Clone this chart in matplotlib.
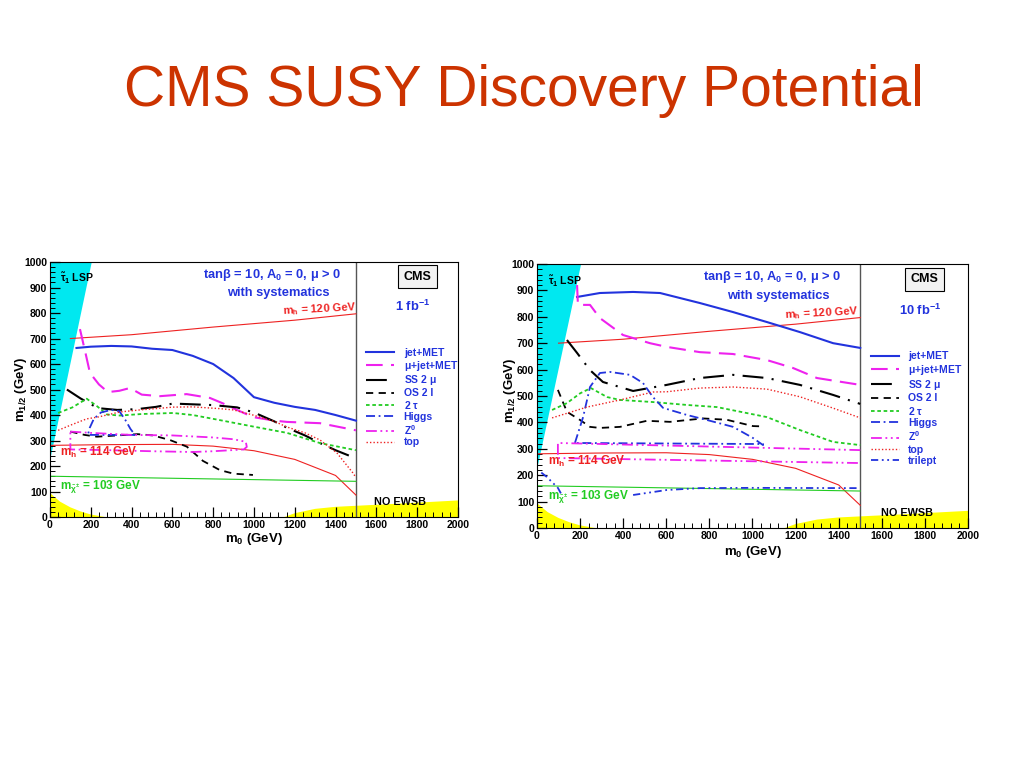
import matplotlib
matplotlib.use("Agg")
import matplotlib.pyplot as plt
import numpy as np

plt.rcParams['font.family'] = ['Liberation Sans', 'DejaVu Sans']
plt.rcParams['font.weight'] = 'bold'
plt.rcParams['mathtext.fontset'] = 'custom'
plt.rcParams['mathtext.rm'] = 'Liberation Sans:bold'
plt.rcParams['mathtext.it'] = 'Liberation Sans:bold'
plt.rcParams['mathtext.bf'] = 'Liberation Sans:bold'

# ---- shared regions / reference lines ----
LSP_M0 = [0, 205, 0]
LSP_M12 = [1000, 1000, 220]
EWSB_LO_M0 = [0, 20, 50, 100, 150, 200, 270, 0]
EWSB_LO_M12 = [95, 80, 60, 38, 22, 10, 0, 0]
EWSB_HI_M0 = [1150, 1200, 1300, 1400, 1500, 1700, 2000, 2000]
EWSB_HI_M12 = [0, 15, 32, 40, 44, 52, 65, 0]

MH120_M0 = [100, 400, 800, 1200, 1500]
MH120_M12 = [700, 715, 745, 772, 797]
MH114_M0 = [0, 300, 600, 800, 1000, 1200, 1400, 1500]
MH114_M12 = [281, 284, 285, 278, 260, 226, 163, 86]
MCH_M0 = [0, 1500]
MCH_M12 = [160, 140]

# ---- left panel: 1 fb^-1 ----
L_JET_M0 = [130, 200, 300, 400, 500, 600, 700, 800, 900, 1000, 1100, 1200, 1300, 1400, 1500]
L_JET_M12 = [663, 668, 671, 669, 660, 655, 632, 600, 545, 470, 448, 432, 420, 400, 378]
L_MU_M0 = [147, 175, 196, 240, 284, 340, 392, 450, 540, 670, 784, 850, 917, 995, 1100, 1162, 1324, 1500]
L_MU_M12 = [737, 640, 565, 520, 490, 495, 506, 480, 474, 482, 467, 445, 420, 392, 378, 373, 368, 340]
L_SS_M0 = [83, 150, 235, 330, 426, 520, 603, 700, 799, 917, 1000, 1100, 1162, 1250, 1324, 1400, 1500]
L_SS_M12 = [500, 465, 427, 420, 423, 432, 445, 442, 439, 430, 410, 375, 350, 320, 290, 262, 230]
L_OS_M0 = [100, 170, 230, 330, 430, 505, 588, 671, 750, 833, 900, 995]
L_OS_M12 = [335, 322, 315, 320, 325, 320, 302, 276, 220, 184, 170, 165]
L_TAU_M0 = [40, 110, 180, 230, 280, 343, 450, 603, 700, 833, 995, 1162, 1324, 1500]
L_TAU_M12 = [408, 430, 464, 435, 402, 398, 404, 408, 400, 380, 355, 330, 290, 262]
L_HIG_M0 = [417, 186, 195, 215, 250, 300, 340, 370, 395, 417]
L_HIG_M12 = [322, 322, 350, 385, 410, 420, 415, 380, 345, 322]
L_Z_M0 = [100, 200, 400, 600, 800, 900, 960, 965, 950, 800, 700, 500, 300, 100, 100]
L_Z_M12 = [335, 330, 322, 320, 312, 305, 295, 275, 265, 258, 255, 258, 262, 265, 335]
L_TOP_M0 = [40, 100, 180, 235, 343, 441, 603, 700, 833, 900, 995, 1100, 1162, 1250, 1324, 1407, 1485, 1500]
L_TOP_M12 = [340, 360, 385, 392, 412, 420, 431, 432, 425, 420, 400, 375, 353, 330, 302, 251, 173, 155]

# ---- right panel: 10 fb^-1 ----
R_JET_M0 = [186, 292, 446, 571, 756, 909, 1067, 1220, 1374, 1500]
R_JET_M12 = [875, 890, 894, 890, 852, 818, 780, 742, 700, 682]
R_MU_M0 = [186, 190, 246, 292, 399, 524, 602, 756, 909, 1067, 1188, 1299, 1500]
R_MU_M12 = [920, 845, 845, 795, 731, 700, 686, 666, 659, 636, 606, 568, 542]
R_SS_M0 = [139, 186, 246, 306, 446, 602, 756, 909, 1067, 1220, 1374, 1500]
R_SS_M12 = [712, 663, 598, 553, 519, 542, 568, 580, 568, 542, 504, 470]
R_OS_M0 = [97, 139, 200, 246, 292, 385, 510, 617, 770, 880, 1002, 1040]
R_OS_M12 = [523, 440, 409, 383, 379, 383, 406, 402, 415, 410, 386, 385]
R_TAU_M0 = [70, 139, 200, 250, 325, 385, 538, 696, 835, 1067, 1220, 1374, 1500]
R_TAU_M12 = [447, 473, 510, 530, 496, 485, 477, 466, 458, 420, 371, 326, 314]
R_HIG_M0 = [176, 214, 246, 292, 339, 432, 492, 538, 585, 696, 789, 910, 1002, 1049, 1049, 176]
R_HIG_M12 = [322, 420, 534, 587, 591, 580, 549, 496, 455, 428, 409, 383, 341, 314, 318, 322]
R_Z_M0 = [1500, 97, 97, 1500]
R_Z_M12 = [295, 322, 265, 246]
R_TOP_M0 = [70, 232, 385, 538, 603, 756, 910, 1067, 1220, 1374, 1500]
R_TOP_M12 = [417, 458, 485, 515, 516, 530, 534, 526, 497, 454, 417]
R_TRI_M0 = [20, 46, 97, 115, np.nan, 446, 603, 756, 1000, 1500]
R_TRI_M12 = [210, 193, 152, 125, np.nan, 125, 144, 151, 152, 151]

LEGEND_LEFT = ['jet+MET', r'$\mu$+jet+MET', r'SS 2 $\mu$', 'OS 2 l', r'2 $\tau$', 'Higgs', r'Z$^0$', 'top']
LEGEND_RIGHT = LEGEND_LEFT + ['trilept']

BLUE = '#2233dd'
MAG = '#ee22ee'
GREEN = '#22cc22'
RED = '#ee2222'

STYLES = {
    'jet': dict(color=BLUE, lw=1.5, ls='-'),
    'mu': dict(color=MAG, lw=1.5, ls=(0, (8, 4))),
    'ss': dict(color='black', lw=1.5, ls=(0, (10, 4, 1, 4))),
    'os': dict(color='black', lw=1.3, ls=(0, (4, 3))),
    'tau': dict(color=GREEN, lw=1.3, ls=(0, (2, 1.5))),
    'hig': dict(color=BLUE, lw=1.3, ls=(0, (5, 2, 1, 2))),
    'z': dict(color=MAG, lw=1.3, ls=(0, (6, 2, 1, 2, 1, 2))),
    'top': dict(color=RED, lw=1.0, ls=(0, (1, 1.5))),
    'tri': dict(color=BLUE, lw=1.3, ls=(0, (4, 2, 1, 2, 1, 2))),
}


def frame(ax, lumi, ylab_x, ylab_y, xlab_y):
    ax.set_xlim(0, 2000)
    ax.set_ylim(0, 1000)
    ax.fill(LSP_M0, LSP_M12, color='#00e8f0', lw=0, zorder=1)
    ax.fill(EWSB_LO_M0, EWSB_LO_M12, color='#ffff00', lw=0, zorder=1)
    ax.fill(EWSB_HI_M0, EWSB_HI_M12, color='#ffff00', lw=0, zorder=1)
    ax.axvline(1500, color='#555555', lw=1.0, zorder=2)
    ax.plot(MH120_M0, MH120_M12, color=RED, lw=0.8, zorder=2)
    ax.plot(MH114_M0, MH114_M12, color=RED, lw=0.8, zorder=2)
    ax.plot(MCH_M0, MCH_M12, color=GREEN, lw=0.8, zorder=2)

    ax.set_xticks(np.arange(0, 2001, 200))
    ax.set_yticks(np.arange(0, 1001, 100))
    ax.set_xticks(np.arange(0, 2001, 40), minor=True)
    ax.set_yticks(np.arange(0, 1001, 20), minor=True)
    ax.tick_params(which='both', direction='in', top=False, right=False,
                   labelsize=7.5, pad=2)
    ax.tick_params(which='major', length=7, width=0.9)
    ax.tick_params(which='minor', length=3.5, width=0.7)
    for lab in ax.get_xticklabels() + ax.get_yticklabels():
        lab.set_fontweight('bold')
    for s in ax.spines.values():
        s.set_linewidth(0.8)

    ax.set_xlabel(r'm$_0$ (GeV)', fontsize=9.5, fontweight='bold')
    ax.set_ylabel(r'm$_{1/2}$ (GeV)', fontsize=9.5, fontweight='bold')
    ax.xaxis.set_label_coords(0.5, xlab_y)
    ax.yaxis.set_label_coords(ylab_x, ylab_y)

    ax.text(50, 935, r'$\tilde{\tau}_1$ LSP', fontsize=7.5, va='center', zorder=5)
    ax.text(1090, 950, r'tan$\beta$ = 10, A$_0$ = 0, $\mu$ > 0', color=BLUE,
            fontsize=9.3, ha='center', va='center', zorder=5)
    ax.text(1120, 880, 'with systematics', color=BLUE, fontsize=9.3,
            ha='center', va='center', zorder=5)
    ax.text(1320, 815, r'm$_h$ = 120 GeV', color=RED, fontsize=8,
            ha='center', va='center', rotation=3, zorder=5)
    ax.text(50, 252, r'm$_h$ = 114 GeV', color=RED, fontsize=8.5, va='center', zorder=5)
    ax.text(50, 120, r'm$_{\tilde{\chi}^{\pm}}$ = 103 GeV', color=GREEN, fontsize=8.5,
            va='center', zorder=5)
    ax.text(1800, 942, 'CMS', fontsize=9, ha='center', va='center', zorder=5,
            bbox=dict(boxstyle='square,pad=0.45', fc='#f2f2f2', ec='black', lw=0.8))
    ax.text(1780, 825, lumi, color=BLUE, fontsize=9.3, ha='center', va='center', zorder=5)
    ax.text(1715, 57, 'NO EWSB', fontsize=7.8, ha='center', va='center', zorder=5)


fig = plt.figure(figsize=(10.24, 7.68), dpi=100)
fig.text(0.512, 0.882, 'CMS SUSY Discovery Potential', color='#cc3300',
         fontsize=41, fontweight='normal', ha='center', va='center')

# left panel
ax1 = fig.add_axes([0.0488, 0.3268, 0.3984, 0.3320])
frame(ax1, r'1 fb$^{-1}$', -0.052, 0.5, -0.055)
left_series = [(L_JET_M0, L_JET_M12, 'jet'), (L_MU_M0, L_MU_M12, 'mu'),
               (L_SS_M0, L_SS_M12, 'ss'), (L_OS_M0, L_OS_M12, 'os'),
               (L_TAU_M0, L_TAU_M12, 'tau'), (L_HIG_M0, L_HIG_M12, 'hig'),
               (L_Z_M0, L_Z_M12, 'z'), (L_TOP_M0, L_TOP_M12, 'top')]
for (m0, m12, key), lab in zip(left_series, LEGEND_LEFT):
    ax1.plot(m0, m12, label=lab, zorder=3, **STYLES[key])
leg1 = ax1.legend(loc='upper left', bbox_to_anchor=(0.765, 0.68), frameon=False,
                  fontsize=7.5, handlelength=2.7, handletextpad=0.9,
                  labelspacing=0.08, labelcolor=BLUE, borderaxespad=0)

# right panel
ax2 = fig.add_axes([0.5244, 0.3125, 0.4209, 0.3438])
frame(ax2, r'10 fb$^{-1}$', -0.045, 0.52, -0.06)
right_series = [(R_JET_M0, R_JET_M12, 'jet'), (R_MU_M0, R_MU_M12, 'mu'),
                (R_SS_M0, R_SS_M12, 'ss'), (R_OS_M0, R_OS_M12, 'os'),
                (R_TAU_M0, R_TAU_M12, 'tau'), (R_HIG_M0, R_HIG_M12, 'hig'),
                (R_Z_M0, R_Z_M12, 'z'), (R_TOP_M0, R_TOP_M12, 'top'),
                (R_TRI_M0, R_TRI_M12, 'tri')]
for (m0, m12, key), lab in zip(right_series, LEGEND_RIGHT):
    ax2.plot(m0, m12, label=lab, zorder=3, **STYLES[key])
leg2 = ax2.legend(loc='upper left', bbox_to_anchor=(0.765, 0.685), frameon=False,
                  fontsize=7.5, handlelength=2.7, handletextpad=0.9,
                  labelspacing=0.13, labelcolor=BLUE, borderaxespad=0)

fig.savefig('out.png', dpi=100)
